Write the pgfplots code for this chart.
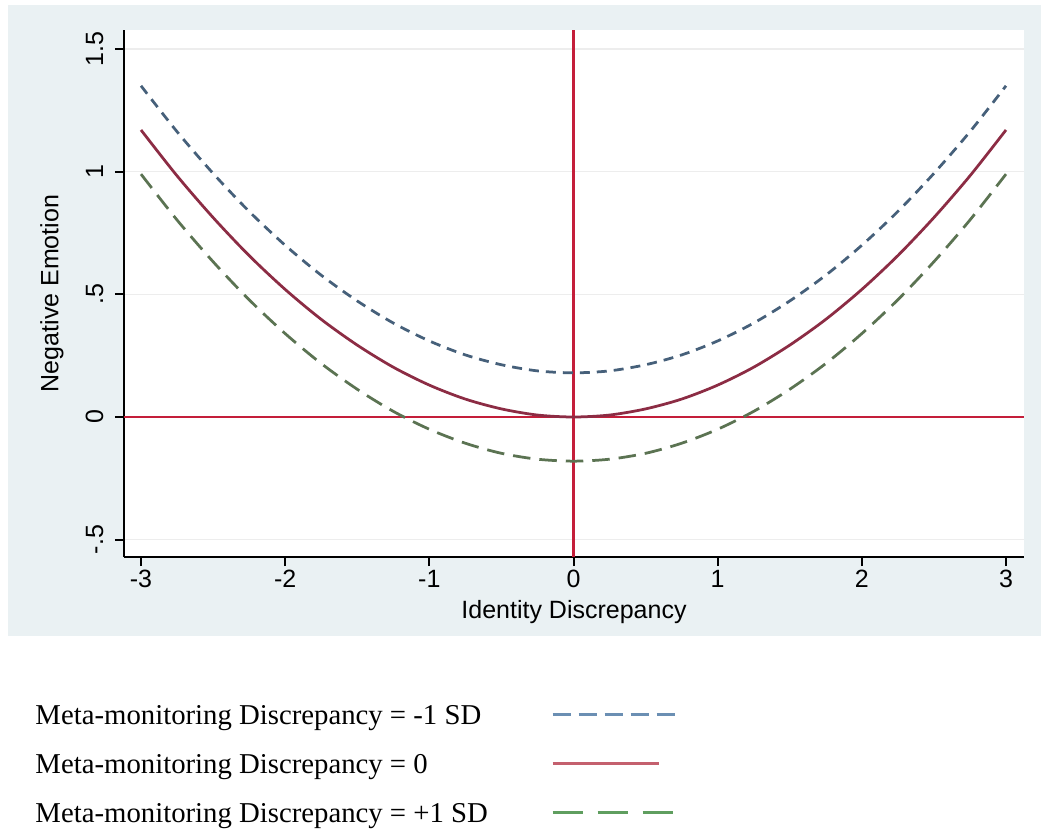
\documentclass[border=0pt]{standalone}
\usepackage{pgfplots}
\usepackage{pgfplotstable}
\pgfplotsset{compat=1.18}
\usepackage{fontspec}
\setmainfont{Liberation Sans}
\newfontfamily\legfont{Liberation Serif}
\definecolor{bggray}{HTML}{EAF1F3}
\definecolor{cblue}{HTML}{46607A}
\definecolor{cred}{HTML}{8C2C44}
\definecolor{cgreen}{HTML}{5B7352}
\definecolor{refred}{HTML}{C41E3A}
\definecolor{lblue}{HTML}{6B8FB3}
\definecolor{lred}{HTML}{C4606E}
\definecolor{lgreen}{HTML}{5F9E5F}
\definecolor{gridc}{HTML}{EDEDED}
\pgfplotstableread{
x lo mid hi
-3.00 1.350 1.170 0.990
-2.75 1.163 0.983 0.803
-2.50 0.993 0.813 0.633
-2.25 0.838 0.658 0.478
-2.00 0.700 0.520 0.340
-1.75 0.578 0.398 0.218
-1.50 0.473 0.293 0.113
-1.25 0.383 0.203 0.023
-1.00 0.310 0.130 -0.050
-0.75 0.253 0.073 -0.107
-0.50 0.213 0.033 -0.148
-0.25 0.188 0.008 -0.172
0.00 0.180 0.000 -0.180
0.25 0.188 0.008 -0.172
0.50 0.213 0.033 -0.148
0.75 0.253 0.073 -0.107
1.00 0.310 0.130 -0.050
1.25 0.383 0.203 0.023
1.50 0.473 0.293 0.113
1.75 0.578 0.398 0.218
2.00 0.700 0.520 0.340
2.25 0.838 0.658 0.478
2.50 0.993 0.813 0.633
2.75 1.163 0.983 0.803
3.00 1.350 1.170 0.990
}\curves
\begin{document}
\begin{tikzpicture}
\useasboundingbox (-49.6pt,-109.2pt) rectangle (366.8pt,222.8pt);
\fill[bggray] (-46.4pt,-31.6pt) rectangle (366.8pt,220.8pt);
\begin{axis}[
  at={(0,0)}, anchor=south west,
  scale only axis, width=360pt, height=210.8pt,
  xmin=-3.118, xmax=3.125, ymin=-0.5707, ymax=1.5775,
  axis background/.style={fill=white},
  axis lines*=left,
  axis line style={black, line width=0.8pt},
  xtick={-3,-2,-1,0,1,2,3},
  xticklabels={-3,-2,-1,0,1,2,3},
  ytick={-0.5,0,0.5,1,1.5},
  yticklabels={-.5,0,.5,1,1.5},
  tick align=outside,
  major tick length=3.6pt,
  tick style={black, line width=0.8pt},
  xtick pos=bottom, ytick pos=left,
  ymajorgrids, grid style={gridc, line width=0.6pt},
  ticklabel style={font=\fontsize{10}{12}\selectfont},
  xticklabel style={anchor=north, inner sep=1.5pt},
  yticklabel style={rotate=90, anchor=south, inner sep=4.5pt},
  every axis x label/.style={at={(axis description cs:0.5,0)}, anchor=center, yshift=-22pt},
  every axis y label/.style={at={(axis description cs:0,0.5)}, anchor=center, xshift=-28.8pt, rotate=90},
  label style={font=\fontsize{10}{12}\selectfont},
  xlabel={Identity Discrepancy},
  ylabel={Negative Emotion},
  legend plot pos=right,
  legend cell align=left,
  legend style={at={(axis description cs:0,0)}, anchor=north west,
    xshift=-35.6pt, yshift=-58.6pt, draw=none, fill=none, inner sep=0pt,
    column sep=25.2pt, row sep=9.1pt,
    font=\legfont\fontsize{11.5}{13}\selectfont,
    nodes={inner sep=0pt, text height=8pt, text depth=2.5pt}},
]
\addlegendimage{lblue, legend image code/.code={\draw[lblue, line width=1.4pt, dash pattern=on 7.2pt off 3.2pt] (0pt,1pt) -- (50pt,1pt);}}
\addlegendentry{Meta-monitoring Discrepancy = -1 SD}
\addlegendimage{lred, legend image code/.code={\draw[lred, line width=1.4pt] (0pt,1pt) -- (42.4pt,1pt);}}
\addlegendentry{Meta-monitoring Discrepancy = 0}
\addlegendimage{lgreen, legend image code/.code={\draw[lgreen, line width=1.4pt, dash pattern=on 12pt off 6pt] (0pt,1pt) -- (49pt,1pt);}}
\addlegendentry{Meta-monitoring Discrepancy = +1 SD}
\addplot[refred, line width=1pt, forget plot] coordinates {(-3.118,0) (3.125,0)};
\addplot[refred, line width=1pt, forget plot] coordinates {(0,-0.5707) (0,1.5775)};
\addplot[cblue, line width=1.1pt, smooth, dash pattern=on 4pt off 2.8pt, forget plot] table[x=x,y=lo] {\curves};
\addplot[cred, line width=1.1pt, smooth, forget plot] table[x=x,y=mid] {\curves};
\addplot[cgreen, line width=1.1pt, smooth, dash pattern=on 7pt off 3.6pt, forget plot] table[x=x,y=hi] {\curves};
\end{axis}
\end{tikzpicture}
\end{document}
